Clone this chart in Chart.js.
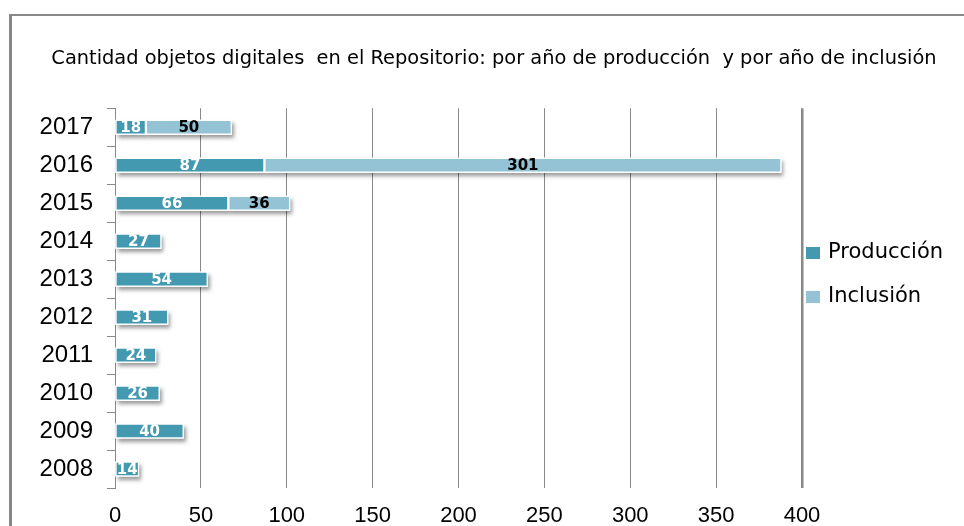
<!DOCTYPE html>
<html>
<head>
<meta charset="utf-8">
<script src="https://cdn.jsdelivr.net/npm/chart.js@4"></script>
<style>
  html, body { margin: 0; padding: 0; background: #fff; overflow: hidden; }
  #wrap { position: relative; width: 964px; height: 526px; }
  #frame { position: absolute; left: 9px; top: 14px; width: 1000px; height: 600px;
           border-left: 3px solid #888; border-top: 2.5px solid #888; box-sizing: border-box; }
  canvas { position: absolute; left: 0; top: 0; }
</style>
</head>
<body>
<div id="wrap">
  <div id="frame"></div>
  <canvas id="c" width="964" height="526" style="width:964px;height:526px"></canvas>
</div>
<script>
const titleText = 'Cantidad objetos digitales  en el Repositorio: por año de producción  y por año de inclusión';
const years = ['2017', '2016', '2015', '2014', '2013', '2012', '2011', '2010', '2009', '2008'];
const produccion = [18, 87, 66, 27, 54, 31, 24, 26, 40, 14];
const inclusion = [50, 301, 36, null, null, null, null, null, null, null];
const seriesNames = ['Producción', 'Inclusión'];
const xMin = 0, xMax = 400, xStep = 50;

const colProd = '#4399B0';
const colIncl = '#93C3D4';

const shadowPlugin = {
  id: 'barShadow',
  beforeDatasetsDraw(chart) {
    const ctx = chart.ctx;
    ctx.save();
    ctx.shadowColor = 'rgba(0,0,0,0.40)';
    ctx.shadowBlur = 4;
    ctx.shadowOffsetX = 2;
    ctx.shadowOffsetY = 3;
    ctx.fillStyle = '#fff';
    chart.data.datasets.forEach((ds, i) => {
      const meta = chart.getDatasetMeta(i);
      meta.data.forEach((el, j) => {
        if (ds.data[j] == null) return;
        const p = el.getProps(['x', 'y', 'base', 'height'], true);
        const left = Math.min(p.x, p.base), right = Math.max(p.x, p.base);
        ctx.fillRect(left, p.y - p.height / 2, right - left, p.height);
      });
    });
    ctx.restore();
  }
};

const labelPlugin = {
  id: 'valueLabels',
  afterDatasetsDraw(chart) {
    const ctx = chart.ctx;
    ctx.save();
    ctx.font = 'bold 15px "DejaVu Sans", sans-serif';
    ctx.textAlign = 'center';
    ctx.textBaseline = 'middle';
    chart.data.datasets.forEach((ds, i) => {
      const meta = chart.getDatasetMeta(i);
      ctx.fillStyle = i === 0 ? '#ffffff' : '#000000';
      meta.data.forEach((el, j) => {
        const v = ds.data[j];
        if (v == null) return;
        const c = el.getCenterPoint();
        ctx.fillText(String(v), c.x, c.y + 1);
      });
    });
    ctx.restore();
  }
};

const legendPlugin = {
  id: 'sideLegend',
  afterDraw(chart) {
    const ctx = chart.ctx;
    const a = chart.chartArea;
    const x0 = a.right + 4;
    const rows = [253, 297];
    ctx.save();
    ctx.font = '21px "DejaVu Sans", sans-serif';
    ctx.textBaseline = 'middle';
    ctx.textAlign = 'left';
    chart.data.datasets.forEach((ds, i) => {
      const y = rows[i];
      ctx.fillStyle = ds.backgroundColor;
      ctx.fillRect(x0, y - 6, 14, 12);
      ctx.fillStyle = '#000';
      ctx.fillText(ds.label, x0 + 22, y);
    });
    ctx.restore();
  }
};

new Chart(document.getElementById('c'), {
  type: 'bar',
  data: {
    labels: years,
    datasets: [
      { label: seriesNames[0], data: produccion, backgroundColor: colProd,
        borderColor: '#ffffff', borderWidth: 1.5, borderSkipped: false, barThickness: 15 },
      { label: seriesNames[1], data: inclusion, backgroundColor: colIncl,
        borderColor: '#ffffff', borderWidth: 1.5, borderSkipped: false, barThickness: 15 }
    ]
  },
  options: {
    indexAxis: 'y',
    responsive: false,
    animation: false,
    layout: { padding: { left: 24, right: 0, top: 0, bottom: 0 } },
    plugins: {
      legend: { display: false },
      tooltip: { enabled: false },
      title: {
        display: true,
        text: titleText,
        color: '#000',
        font: { family: '"DejaVu Sans", sans-serif', size: 19.4, weight: 'normal' },
        padding: { top: 47, bottom: 38 }
      }
    },
    scales: {
      x: {
        stacked: true,
        min: xMin, max: xMax,
        ticks: { stepSize: xStep, color: '#000', padding: 15,
                 font: { family: '"Liberation Sans", Arial, sans-serif', size: 22 } },
        grid: { color: '#888', drawTicks: false,
                lineWidth: (c) => (c.tick && c.tick.value === xMax ? 2.5 : 1) },
        border: { display: false },
        afterFit: (s) => { s.height = 38; }
      },
      y: {
        stacked: true,
        ticks: { color: '#000', padding: 14,
                 font: { family: '"Liberation Sans", Arial, sans-serif', size: 24 } },
        grid: { drawOnChartArea: false, drawTicks: true, tickLength: 8, color: '#888' },
        border: { display: true, color: '#888', width: 1 },
        afterFit: (s) => { s.width = 91; }
      },
      r: {
        axis: 'y',
        position: 'right',
        type: 'linear',
        ticks: { display: false },
        grid: { display: false },
        border: { display: false },
        afterFit: (s) => { s.width = 162; }
      }
    }
  },
  plugins: [shadowPlugin, labelPlugin, legendPlugin]
});
</script>
</body>
</html>
